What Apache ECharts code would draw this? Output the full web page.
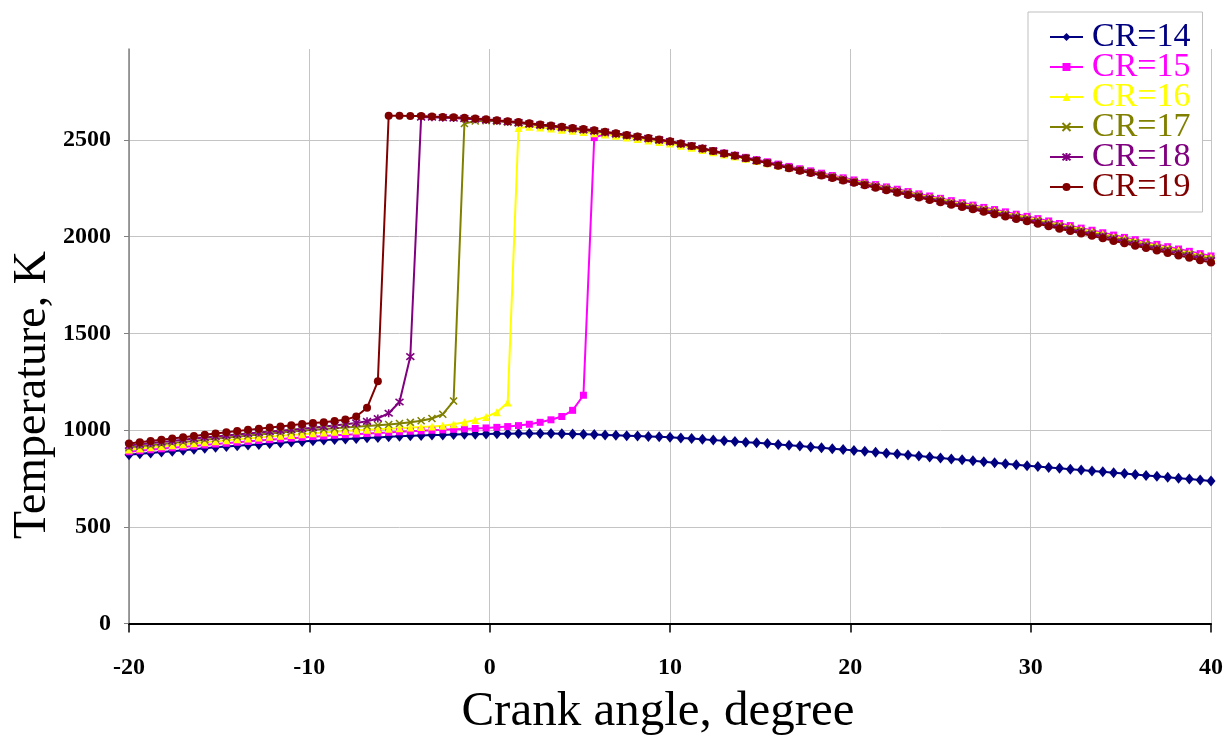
<!DOCTYPE html>
<html>
<head>
<meta charset="utf-8">
<script src="https://cdn.jsdelivr.net/npm/echarts@6/dist/echarts.min.js"></script>
<style>
html,body{margin:0;padding:0;background:#fff;}
#chart{width:1226px;height:740px;}
</style>
</head>
<body>
<div id="chart"></div>
<script>
// Crank angle (degree), 0.6 degree step
const angle = [
-20, -19.4, -18.8, -18.2, -17.6, -17, -16.4, -15.8, -15.2, -14.6,
-14, -13.4, -12.8, -12.2, -11.6, -11, -10.4, -9.8, -9.2, -8.6,
-8, -7.4, -6.8, -6.2, -5.6, -5, -4.4, -3.8, -3.2, -2.6,
-2, -1.4, -0.8, -0.2, 0.4, 1, 1.6, 2.2, 2.8, 3.4,
4, 4.6, 5.2, 5.8, 6.4, 7, 7.6, 8.2, 8.8, 9.4,
10, 10.6, 11.2, 11.8, 12.4, 13, 13.6, 14.2, 14.8, 15.4,
16, 16.6, 17.2, 17.8, 18.4, 19, 19.6, 20.2, 20.8, 21.4,
22, 22.6, 23.2, 23.8, 24.4, 25, 25.6, 26.2, 26.8, 27.4,
28, 28.6, 29.2, 29.8, 30.4, 31, 31.6, 32.2, 32.8, 33.4,
34, 34.6, 35.2, 35.8, 36.4, 37, 37.6, 38.2, 38.8, 39.4,
40];

// Temperature (K) for each compression ratio
const cr14 = [
872, 877, 882, 887, 891, 896, 901, 906, 911, 915,
919, 923, 926, 930, 934, 938, 941, 945, 948, 951,
954, 957, 960, 962, 965, 968, 970, 972, 974, 975,
977, 978, 979, 980, 981, 981, 982, 982, 982, 982,
981, 980, 979, 977, 975, 973, 971, 969, 967, 965,
963, 959, 956, 952, 948, 945, 941, 937, 934, 930,
926, 921, 917, 912, 908, 903, 899, 895, 890, 885,
880, 876, 871, 866, 861, 856, 851, 846, 841, 836,
831, 826, 821, 816, 812, 807, 803, 798, 793, 789,
784, 779, 775, 770, 765, 761, 756, 751, 747, 742,
737];

const cr15 = [
888, 893, 898, 903, 908, 913, 918, 923, 928, 932,
937, 941, 946, 950, 954, 958, 962, 966, 969, 973,
976, 979, 982, 985, 988, 991, 994, 996, 999, 1001,
1004, 1006, 1008, 1011, 1014, 1018, 1023, 1030, 1040, 1053,
1070, 1102, 1180, 2512, 2530, 2526, 2520, 2513, 2506, 2498,
2490, 2479, 2468, 2456, 2444, 2432, 2421, 2410, 2398, 2387,
2375, 2363, 2351, 2340, 2328, 2316, 2304, 2293, 2281, 2269,
2257, 2245, 2233, 2221, 2210, 2198, 2186, 2175, 2163, 2151,
2140, 2128, 2116, 2105, 2093, 2081, 2068, 2057, 2044, 2033,
2020, 2008, 1996, 1984, 1972, 1960, 1948, 1936, 1924, 1912,
1900];

const cr16 = [
900, 905, 911, 916, 922, 927, 932, 937, 942, 947,
952, 957, 962, 966, 971, 975, 979, 983, 987, 991,
995, 998, 1001, 1004, 1007, 1010, 1013, 1016, 1019, 1022,
1030, 1040, 1052, 1068, 1092, 1142, 2562, 2568, 2564, 2559,
2553, 2547, 2541, 2535, 2528, 2521, 2513, 2505, 2497, 2489,
2481, 2470, 2460, 2448, 2436, 2425, 2414, 2402, 2391, 2380,
2368, 2357, 2345, 2334, 2323, 2311, 2299, 2288, 2276, 2264,
2252, 2239, 2228, 2216, 2204, 2193, 2180, 2169, 2158, 2145,
2134, 2122, 2110, 2099, 2087, 2074, 2062, 2050, 2038, 2026,
2014, 2001, 1989, 1977, 1965, 1953, 1941, 1929, 1917, 1904,
1893];

const cr17 = [
910, 916, 921, 927, 933, 938, 944, 950, 955, 961,
966, 972, 977, 982, 987, 992, 997, 1001, 1005, 1009,
1013, 1017, 1021, 1025, 1029, 1034, 1040, 1048, 1060, 1082,
1150, 2585, 2598, 2599, 2596, 2592, 2587, 2581, 2575, 2569,
2563, 2557, 2551, 2545, 2538, 2530, 2522, 2514, 2506, 2498,
2490, 2478, 2467, 2454, 2442, 2430, 2418, 2406, 2394, 2382,
2370, 2357, 2345, 2334, 2321, 2309, 2296, 2285, 2272, 2261,
2248, 2236, 2224, 2211, 2200, 2188, 2175, 2164, 2152, 2140,
2128, 2116, 2104, 2092, 2080, 2068, 2055, 2043, 2031, 2019,
2007, 1994, 1982, 1970, 1958, 1945, 1934, 1921, 1909, 1897,
1885];

const cr18 = [
920, 926, 932, 938, 944, 950, 956, 962, 967, 972,
977, 982, 987, 992, 997, 1002, 1007, 1012, 1018, 1024,
1030, 1037, 1045, 1060, 1087, 1145, 1380, 2618, 2617, 2615,
2613, 2610, 2607, 2603, 2599, 2594, 2589, 2583, 2577, 2571,
2565, 2559, 2553, 2547, 2540, 2532, 2524, 2516, 2508, 2500,
2492, 2480, 2469, 2456, 2443, 2430, 2419, 2406, 2393, 2381,
2369, 2356, 2343, 2331, 2318, 2306, 2293, 2281, 2268, 2257,
2244, 2231, 2219, 2207, 2195, 2183, 2170, 2159, 2147, 2134,
2122, 2111, 2098, 2086, 2074, 2062, 2049, 2037, 2024, 2012,
2000, 1987, 1975, 1962, 1950, 1937, 1925, 1913, 1901, 1888,
1876];

const cr19 = [
930, 937, 943, 950, 956, 963, 969, 976, 982, 989,
995, 1001, 1007, 1013, 1019, 1025, 1031, 1036, 1041, 1047,
1054, 1070, 1115, 1252, 2625, 2625, 2624, 2623, 2621, 2619,
2617, 2614, 2611, 2607, 2602, 2597, 2592, 2586, 2580, 2574,
2568, 2562, 2556, 2550, 2542, 2534, 2526, 2518, 2510, 2502,
2493, 2481, 2469, 2456, 2443, 2430, 2418, 2405, 2392, 2380,
2367, 2354, 2341, 2329, 2316, 2303, 2290, 2278, 2265, 2253,
2240, 2227, 2215, 2202, 2190, 2178, 2165, 2153, 2141, 2128,
2116, 2104, 2091, 2079, 2067, 2054, 2041, 2029, 2016, 2004,
1991, 1978, 1966, 1953, 1941, 1928, 1916, 1903, 1891, 1878,
1866];

const seriesNames = ['CR=14', 'CR=15', 'CR=16', 'CR=17', 'CR=18', 'CR=19'];
const seriesValues = [cr14, cr15, cr16, cr17, cr18, cr19];
const colors = ['#000080', '#FF00FF', '#FFFF00', '#808000', '#800080', '#800000'];
const symbols = [
  'diamond', 'rect', 'triangle',
  'path://M0,0L10,10M10,0L0,10',
  'path://M1,1L9,9M9,1L1,9M5,0L5,10',
  'circle'
];
const symbolSizes = [[9, 11], 7, 8, 7, 8, 8];

const FONT = "'Liberation Serif', 'Times New Roman', serif";

const chart = echarts.init(document.getElementById('chart'), null, {renderer: 'canvas'});

const series = seriesNames.map((name, i) => ({
  name: name,
  type: 'line',
  data: angle.map((a, j) => [a, seriesValues[i][j]]),
  symbol: symbols[i],
  symbolSize: symbolSizes[i],
  showSymbol: true,
  lineStyle: {color: colors[i], width: 2},
  itemStyle: {
    color: colors[i],
    borderColor: colors[i],
    borderWidth: (i === 3 || i === 4) ? 1.6 : 0
  },
  emphasis: {disabled: true},
  animation: false
}));

const option = {
  backgroundColor: '#ffffff',
  animation: false,
  grid: {left: 129, right: 15, top: 49, bottom: 116.5, containLabel: false},
  xAxis: {
    type: 'value',
    min: -20, max: 40, interval: 10,
    axisLine: {show: true, onZero: false, lineStyle: {color: '#000', width: 2}},
    axisTick: {show: true, inside: false, length: 9, lineStyle: {color: '#000', width: 1.5}},
    axisLabel: {fontFamily: FONT, fontSize: 24, fontWeight: 'bold', color: '#000', margin: 32},
    splitLine: {show: true, lineStyle: {color: '#c4c4c4', width: 1}}
  },
  yAxis: {
    type: 'value',
    min: 0, max: 2970, interval: 500,
    axisLine: {show: true, onZero: false, lineStyle: {color: '#808080', width: 1.5}},
    axisTick: {show: true, inside: false, length: 5, lineStyle: {color: '#808080'}},
    axisLabel: {
      fontFamily: FONT, fontSize: 24, fontWeight: 'bold', color: '#000', margin: 18,
      showMaxLabel: false,
      formatter: v => String(v)
    },
    splitLine: {show: true, showMaxLine: false, lineStyle: {color: '#c4c4c4', width: 1}}
  },
  legend: {
    orient: 'vertical',
    left: 1028, top: 12,
    padding: [8, 12, 8, 21],
    backgroundColor: '#ffffff',
    borderColor: '#bfbfbf',
    borderWidth: 1,
    itemWidth: 33,
    itemHeight: 10,
    itemGap: -4,
    selectedMode: false,
    textStyle: {fontFamily: FONT, fontSize: 34, padding: [0, 0, 0, 4]},
    data: seriesNames.map((n, i) => ({name: n, textStyle: {color: colors[i]}}))
  },
  graphic: [{
    type: 'text',
    x: 33, y: 395,
    rotation: Math.PI / 2,
    style: {
      text: 'Temperature, K',
      fontFamily: FONT,
      fontSize: 46,
      fill: '#000',
      align: 'center',
      verticalAlign: 'middle'
    }
  }, {
    type: 'text',
    x: 658, y: 712,
    style: {
      text: 'Crank angle, degree',
      fontFamily: FONT,
      fontSize: 49,
      fill: '#000',
      align: 'center',
      verticalAlign: 'middle'
    }
  }],
  series: series
};

chart.setOption(option);
</script>
</body>
</html>
